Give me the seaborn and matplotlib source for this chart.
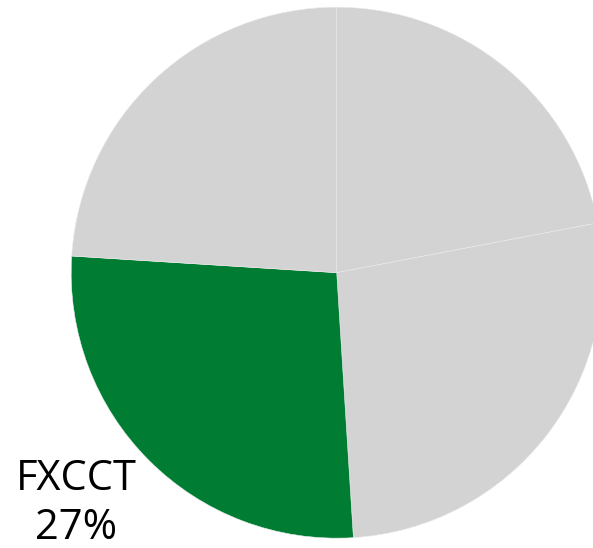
import matplotlib
matplotlib.use("Agg")
import matplotlib.pyplot as plt
import seaborn as sns

# data
categories = ["Other A", "Other B", "FXCCT", "Other C"]
shares = [22, 27, 27, 24]
highlight = "FXCCT"

sns.set_theme(style="white")
plt.rcParams["font.family"] = ["Open Sans", "DejaVu Sans"]

grey = "#D3D3D3"
green = "#007D32"
colors = [green if c == highlight else grey for c in categories]

fig = plt.figure(figsize=(5.93, 5.48), dpi=100)
ax = fig.add_axes([0, 0, 1, 1])
wedges, _ = ax.pie(
    shares,
    colors=colors,
    startangle=90,
    counterclock=False,
    wedgeprops={"edgecolor": "#ECECEC", "linewidth": 0.4},
)

# label only the highlighted slice
i = categories.index(highlight)
ax.text(-0.98, -0.87, f"{categories[i]}\n{shares[i]}%",
        ha="center", va="center", fontsize=30,
        linespacing=1.22, color="black")

ax.set_xlim(-1.268, 0.965)
ax.set_ylim(-1.037, 1.027)
ax.set_aspect("auto")
ax.axis("off")

fig.savefig("out.png", dpi=100)
